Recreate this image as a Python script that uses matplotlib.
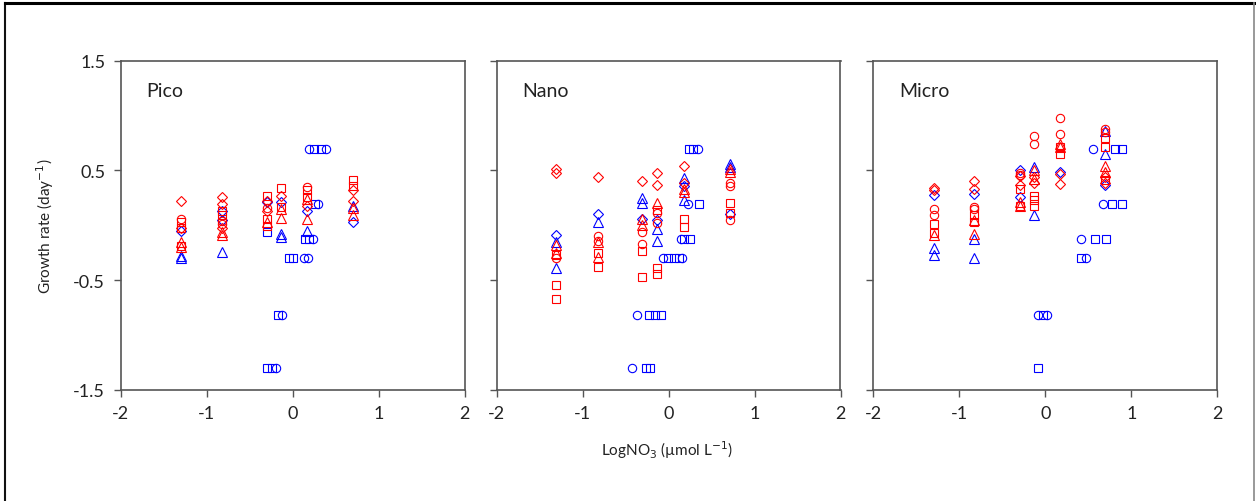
import matplotlib
matplotlib.use("Agg")
import matplotlib.pyplot as plt
from matplotlib.lines import Line2D

plt.rcParams['font.family'] = ['Lato', 'DejaVu Sans']
plt.rcParams['axes.unicode_minus'] = False

panel_titles = ["Pico", "Nano", "Micro"]
x_ticks = [-2, -1, 0, 1, 2]
y_ticks = [-1.5, -0.5, 0.5, 1.5]
y_tick_labels = ["-1.5", "-0.5", "0.5", "1.5"]
x_tick_labels = ["-2", "-1", "0", "1", "2"]

# ---------------- Pico ----------------
pico_red_diamond_x = [-1.30, -1.30, -0.82, -0.82, -0.82, -0.30, -0.30, -0.13, 0.17, 0.70, 0.70]
pico_red_diamond_y = [0.225, -0.02, 0.26, 0.195, -0.02, 0.22, 0.13, 0.27, 0.18, 0.32, 0.225]
pico_red_circle_x = [-1.30, -0.82, -0.82, -0.30, 0.17]
pico_red_circle_y = [0.058, 0.01, 0.04, 0.155, 0.35]
pico_red_square_x = [-1.30, -1.30, -1.30, -0.82, -0.82, -0.30, -0.30, -0.30, -0.13, -0.13, 0.17, 0.17, 0.70, 0.70]
pico_red_square_y = [0.03, -0.02, -0.19, 0.13, 0.09, 0.27, 0.058, -0.01, 0.34, 0.165, 0.32, 0.255, 0.41, 0.36]
pico_red_triangle_x = [-1.30, -1.30, -0.82, -0.82, -0.30, -0.13, -0.13, 0.17, 0.17, 0.70, 0.70]
pico_red_triangle_y = [-0.155, -0.2, -0.06, -0.09, 0.03, 0.15, 0.07, 0.24, 0.06, 0.16, 0.09]
pico_blue_triangle_x = [-1.30, -1.30, -0.82, -0.13, -0.13, 0.17, 0.70]
pico_blue_triangle_y = [-0.28, -0.30, -0.245, -0.08, -0.11, -0.05, 0.18]
pico_blue_diamond_x = [-1.30, -0.82, -0.82, -0.30, -0.13, 0.17, 0.70]
pico_blue_diamond_y = [-0.05, 0.13, 0.05, 0.21, 0.21, 0.13, 0.03]
pico_blue_square_x = [-0.30, 0.25, 0.33, 0.26, 0.15, 0.19, -0.04, 0.01, -0.17, -0.30, -0.24]
pico_blue_square_y = [-0.06, 0.70, 0.70, 0.19, -0.12, -0.12, -0.30, -0.30, -0.82, -1.30, -1.30]
pico_blue_circle_x = [0.19, 0.39, 0.30, 0.24, 0.13, 0.18, -0.12, -0.19]
pico_blue_circle_y = [0.70, 0.70, 0.19, -0.12, -0.30, -0.30, -0.82, -1.30]

# ---------------- Nano ----------------
nano_red_diamond_x = [-1.31, -1.31, -0.82, -0.31, -0.13, -0.13, 0.18, 0.18]
nano_red_diamond_y = [0.515, 0.475, 0.445, 0.40, 0.475, 0.37, 0.545, 0.39]
nano_red_triangle_x = [-1.31, -1.31, -0.82, -0.82, -0.31, -0.31, -0.13, 0.18, 0.18, 0.71, 0.71]
nano_red_triangle_y = [-0.18, -0.255, -0.15, -0.285, 0.06, 0.00, 0.20, 0.33, 0.30, 0.515, 0.485]
nano_red_circle_x = [-1.31, -0.82, -0.82, -0.31, -0.31, -0.13, -0.13, 0.71, 0.71, 0.71]
nano_red_circle_y = [-0.30, -0.10, -0.14, -0.06, -0.17, 0.11, 0.02, 0.39, 0.36, 0.045]
nano_red_square_x = [-1.31, -1.31, -1.31, -0.82, -0.82, -0.31, -0.31, -0.13, -0.13, -0.13, 0.18, 0.18, 0.71, 0.71]
nano_red_square_y = [-0.54, -0.67, -0.27, -0.255, -0.375, -0.23, -0.47, -0.39, -0.44, 0.14, 0.06, -0.015, 0.20, 0.11]
nano_blue_triangle_x = [-1.31, -1.31, -0.82, -0.31, -0.31, -0.13, -0.13, 0.18, 0.18, 0.71, 0.71]
nano_blue_triangle_y = [-0.15, -0.39, 0.03, 0.25, 0.20, -0.03, -0.14, 0.43, 0.23, 0.56, 0.53]
nano_blue_diamond_x = [-1.31, -0.82, -0.31, -0.13, 0.18, 0.71]
nano_blue_diamond_y = [-0.09, 0.10, 0.06, 0.045, 0.36, 0.10]
nano_blue_square_x = [0.24, 0.29, 0.35, 0.18, 0.25, -0.01, 0.06, 0.12, -0.23, -0.16, -0.09, -0.26, -0.21]
nano_blue_square_y = [0.70, 0.70, 0.19, -0.12, -0.12, -0.30, -0.30, -0.30, -0.82, -0.82, -0.82, -1.30, -1.30]
nano_blue_circle_x = [0.34, 0.23, 0.14, -0.06, 0.16, -0.37, -0.42]
nano_blue_circle_y = [0.70, 0.19, -0.12, -0.30, -0.30, -0.82, -1.30]

# ---------------- Micro ----------------
micro_red_diamond_x = [-1.29, -1.29, -0.83, -0.83, -0.30, -0.30, -0.13, -0.13, 0.17, 0.17, 0.69, 0.69]
micro_red_diamond_y = [0.34, 0.32, 0.40, 0.335, 0.365, 0.45, 0.39, 0.44, 0.47, 0.38, 0.44, 0.39]
micro_red_circle_x = [-1.29, -1.29, -0.83, -0.83, -0.30, -0.30, -0.13, -0.13, 0.17, 0.17, 0.69, 0.69]
micro_red_circle_y = [0.15, 0.09, 0.17, 0.15, 0.48, 0.46, 0.81, 0.74, 0.98, 0.83, 0.88, 0.85]
micro_red_square_x = [-1.29, -1.29, -0.83, -0.83, -0.30, -0.30, -0.13, -0.13, -0.13, 0.17, 0.17, 0.69, 0.69, 0.69]
micro_red_square_y = [0.015, -0.07, 0.09, 0.03, 0.335, 0.18, 0.27, 0.18, 0.23, 0.65, 0.71, 0.80, 0.71, 0.41]
micro_red_triangle_x = [-1.29, -0.83, -0.83, -0.30, -0.30, -0.13, -0.13, 0.17, 0.17, 0.69, 0.69]
micro_red_triangle_y = [-0.09, -0.075, 0.05, 0.18, 0.21, 0.505, 0.425, 0.74, 0.71, 0.545, 0.485]
micro_blue_triangle_x = [-1.29, -1.29, -0.83, -0.83, -0.13, -0.13, 0.69, 0.69]
micro_blue_triangle_y = [-0.21, -0.27, -0.12, -0.30, 0.53, 0.09, 0.86, 0.65]
micro_blue_diamond_x = [-1.29, -0.83, -0.30, -0.30, 0.17, 0.69]
micro_blue_diamond_y = [0.275, 0.29, 0.50, 0.26, 0.485, 0.365]
micro_blue_square_x = [0.81, 0.89, 0.77, 0.89, 0.58, 0.70, 0.41, -0.03, -0.08]
micro_blue_square_y = [0.70, 0.70, 0.19, 0.19, -0.12, -0.12, -0.30, -0.82, -1.30]
micro_blue_circle_x = [0.55, 0.67, 0.42, 0.47, -0.08, 0.02]
micro_blue_circle_y = [0.70, 0.19, -0.12, -0.30, -0.82, -0.82]

panels = [
    {
        "blue": [("o", pico_blue_circle_x, pico_blue_circle_y), ("s", pico_blue_square_x, pico_blue_square_y),
                 ("^", pico_blue_triangle_x, pico_blue_triangle_y), ("D", pico_blue_diamond_x, pico_blue_diamond_y)],
        "red": [("o", pico_red_circle_x, pico_red_circle_y), ("s", pico_red_square_x, pico_red_square_y),
                ("^", pico_red_triangle_x, pico_red_triangle_y), ("D", pico_red_diamond_x, pico_red_diamond_y)],
    },
    {
        "blue": [("o", nano_blue_circle_x, nano_blue_circle_y), ("s", nano_blue_square_x, nano_blue_square_y),
                 ("^", nano_blue_triangle_x, nano_blue_triangle_y), ("D", nano_blue_diamond_x, nano_blue_diamond_y)],
        "red": [("o", nano_red_circle_x, nano_red_circle_y), ("s", nano_red_square_x, nano_red_square_y),
                ("^", nano_red_triangle_x, nano_red_triangle_y), ("D", nano_red_diamond_x, nano_red_diamond_y)],
    },
    {
        "blue": [("o", micro_blue_circle_x, micro_blue_circle_y), ("s", micro_blue_square_x, micro_blue_square_y),
                 ("^", micro_blue_triangle_x, micro_blue_triangle_y), ("D", micro_blue_diamond_x, micro_blue_diamond_y)],
        "red": [("o", micro_red_circle_x, micro_red_circle_y), ("s", micro_red_square_x, micro_red_square_y),
                ("^", micro_red_triangle_x, micro_red_triangle_y), ("D", micro_red_diamond_x, micro_red_diamond_y)],
    },
]

W, H = 1256, 502
fig = plt.figure(figsize=(W / 100, H / 100), dpi=100)

lefts = [120.5, 496.5, 873.3]
ax_w = 344.0
top, bottom = 61.7, 391.0

marker_sizes = {"o": 6.0, "s": 6.0, "^": 6.5, "D": 5.0}
colors = {"blue": "#0000FF", "red": "#FF0000"}
spine_color = "#555555"

axes = []
for i, (title, panel) in enumerate(zip(panel_titles, panels)):
    ax = fig.add_axes([lefts[i] / W, 1 - bottom / H, ax_w / W, (bottom - top) / H])
    axes.append(ax)
    for group in ["blue", "red"]:
        for mk, xs, ys in panel[group]:
            ax.plot(xs, ys, linestyle="none", marker=mk, markersize=marker_sizes[mk],
                    markerfacecolor="none", markeredgecolor=colors[group], markeredgewidth=0.8)
    ax.set_xlim(-2, 2)
    ax.set_ylim(-1.5, 1.5)
    ax.set_xticks(x_ticks)
    ax.set_xticklabels(x_tick_labels)
    ax.set_yticks(y_ticks)
    if i == 0:
        ax.set_yticklabels(y_tick_labels)
    else:
        ax.set_yticklabels([])
    ax.tick_params(direction="out", length=5, width=1, color=spine_color,
                   labelsize=13, labelcolor="#222222", pad=6)
    for sp in ax.spines.values():
        sp.set_color(spine_color)
        sp.set_linewidth(1.2)
    ax.text(0.075, 0.91, title, transform=ax.transAxes, fontsize=14,
            ha="left", va="center", color="#222222")

fig.text(45 / W, 1 - 226 / H, "Growth rate (day$^{-1}$)", rotation=90,
         ha="center", va="center", fontsize=11, color="#222222")
fig.text(667 / W, 1 - 450 / H, "LogNO$_3$ (µmol L$^{-1}$)",
         ha="center", va="center", fontsize=11, color="#222222")

# outer frame (top, left, right)
fig.add_artist(Line2D([5 / W, 5 / W], [0, 1 - 4 / H], transform=fig.transFigure, color="#111111", lw=1.5))
fig.add_artist(Line2D([5 / W, 1254 / W], [1 - 4 / H, 1 - 4 / H], transform=fig.transFigure, color="#000000", lw=2.2))
fig.add_artist(Line2D([1254 / W, 1254 / W], [0, 1 - 4 / H], transform=fig.transFigure, color="#888888", lw=1.2))

fig.savefig("out.png", dpi=100)
